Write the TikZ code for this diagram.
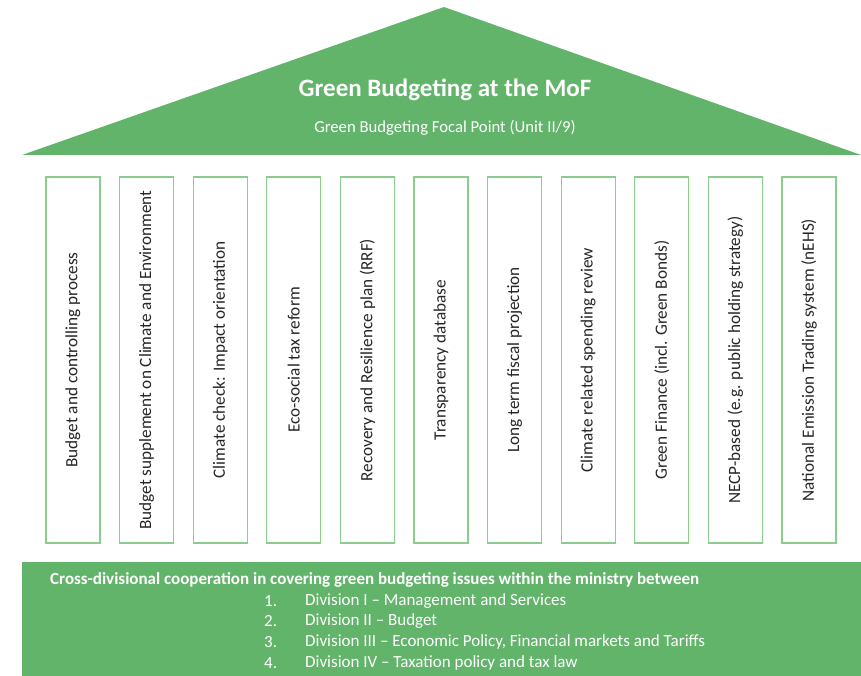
\documentclass[tikz,border=0pt]{standalone}
\usepackage{fontspec}
\setmainfont{Carlito}

\definecolor{roofgreen}{RGB}{99,180,107}
\definecolor{pillarline}{RGB}{140,205,140}

\tikzset{
  pillar/.style={draw=pillarline, line width=1.3pt, rotate=90, minimum width=366pt,
    minimum height=54pt, inner sep=0pt, text=black!85, font=\fontsize{17.2}{19}\selectfont},
  listitem/.style={anchor=west, inner sep=0pt, text=white, font=\fontsize{17}{19}\selectfont}
}

\begin{document}
\begin{tikzpicture}[x=1pt, y=-1pt]
\useasboundingbox (0,0) rectangle (861,676);
% roof
\fill[roofgreen] (22,155) -- (444,7) -- (861,155) -- cycle;
\node[text=white, font=\bfseries\fontsize{25}{28}\selectfont] (title) at (445,90) {Green Budgeting at the MoF};
\node[text=white, font=\fontsize{16.7}{19}\selectfont] (focal) at (445,128) {Green Budgeting Focal Point (Unit II/9)};
% pillars
\foreach \t [count=\i from 0] in {{Budget and controlling process},
  {Budget supplement on Climate and Environment}, {Climate check: Impact orientation},
  {Eco-social tax reform}, {Recovery and Resilience plan (RRF)}, {Transparency database},
  {Long term fiscal projection}, {Climate related spending review},
  {Green Finance (incl. Green Bonds)}, {NECP-based (e.g. public holding strategy)},
  {National Emission Trading system (nEHS)}} {
  \node[pillar] (p\i) at (73+73.6*\i,360) {\t};
}
% base
\fill[roofgreen] (22,562) rectangle (861,676);
\node[anchor=west, inner sep=0pt, text=white, font=\bfseries\fontsize{17}{19}\selectfont] (coop) at (50,580)
  {Cross-divisional cooperation in covering green budgeting issues within the ministry between};
\foreach \t [count=\i] in {{Division I – Management and Services}, {Division II – Budget},
  {Division III – Economic Policy, Financial markets and Tariffs},
  {Division IV – Taxation policy and tax law}} {
  \node[listitem] (n\i) at (264,580+20.7*\i) {\i.};
  \node[listitem] (d\i) at (305,580+20.7*\i) {\t};
}
\end{tikzpicture}
\end{document}
